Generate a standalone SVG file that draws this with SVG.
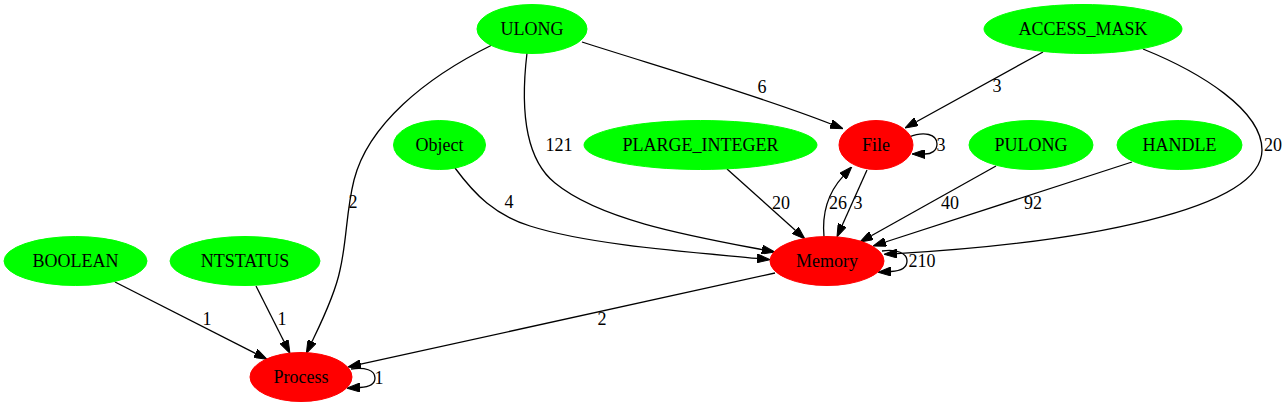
<svg xmlns="http://www.w3.org/2000/svg" width="1288" height="407" viewBox="0 0 1288 407">
<style>
.src ellipse{fill:#00ff00;stroke:#00ff00;stroke-width:1}
.dst ellipse{fill:#ff0000;stroke:#ff0000;stroke-width:1}
text{font-family:"Liberation Serif","Times New Roman",serif;font-size:18px;fill:#000;text-anchor:middle}
.edges path{fill:none;stroke:#000;stroke-width:1.3;marker-end:url(#ah)}
</style>
<defs>
<marker id="ah" viewBox="0 0 13 9" refX="0" refY="4.5" markerUnits="userSpaceOnUse" markerWidth="13" markerHeight="9" orient="auto">
<path d="M0,0 L13,4.5 L0,9 z" fill="#000" stroke="#000" stroke-width="1"/>
</marker>
</defs>
<rect width="1288" height="407" fill="#fff"/>
<g class="edges" id="edges">
<path d="M582,42 C660,67 760,96 831,124"/>
<path d="M527,53 C522,95 520,155 555,183 C600,220 690,236 762,249.6"/>
<path d="M492,45 C425,78 368,125 354,180 C346,212 347,240 340,270 C335,295 320,325 312,341.6"/>
<path d="M1043,52 L916.4,121.7"/>
<path d="M1143,49 C1200,72 1262,110 1262,150 C1262,210 1080,243 897,253.6"/>
<path d="M455,168 C475,195 495,215 530,226 C590,245 690,252 757,258.4"/>
<path d="M727,169 L795.3,230.3"/>
<path d="M909,137 C924,131 937,134 937,144 C937,151 931,154 925,154"/>
<path d="M867,170 L842.3,225.1"/>
<path d="M824,237 C822,215 826,195 843,176.4"/>
<path d="M996,166 L871.3,235.7"/>
<path d="M1132,162 L885.4,242"/>
<path d="M882,251 C897,249 907,253 907,261 C907,268 900,271 891,271.5"/>
<path d="M115,282 L255.4,353.4"/>
<path d="M256,286 L284.1,341.7"/>
<path d="M775,273 L360.7,364.2"/>
<path d="M351,369 C365,367 375,370 375,378 C375,384 370,387 360,387.5"/>
<text x="762" y="93">6</text>
<text x="559" y="151">121</text>
<text x="353" y="208">2</text>
<text x="997" y="92">3</text>
<text x="1273" y="151">20</text>
<text x="509" y="208">4</text>
<text x="781" y="209">20</text>
<text x="941" y="151">3</text>
<text x="858" y="209">3</text>
<text x="838" y="209">26</text>
<text x="950" y="209">40</text>
<text x="1033" y="209">92</text>
<text x="922" y="267">210</text>
<text x="207" y="325">1</text>
<text x="282" y="325">1</text>
<text x="602" y="325">2</text>
<text x="379" y="384">1</text>
</g>
<g id="ULONG" class="src"><ellipse cx="532" cy="29" rx="55" ry="24.5"/><text x="532" y="35">ULONG</text></g>
<g id="ACCESS_MASK" class="src"><ellipse cx="1083" cy="29" rx="99" ry="24.5"/><text x="1083" y="35">ACCESS_MASK</text></g>
<g id="Object" class="src"><ellipse cx="439.5" cy="145" rx="46" ry="24.5"/><text x="439.5" y="151">Object</text></g>
<g id="PLARGE_INTEGER" class="src"><ellipse cx="700.5" cy="145" rx="116.5" ry="24.5"/><text x="700.5" y="151">PLARGE_INTEGER</text></g>
<g id="File" class="dst"><ellipse cx="876" cy="145" rx="37" ry="24.5"/><text x="876" y="151">File</text></g>
<g id="PULONG" class="src"><ellipse cx="1031" cy="145" rx="62" ry="24.5"/><text x="1031" y="151">PULONG</text></g>
<g id="HANDLE" class="src"><ellipse cx="1179.5" cy="145" rx="62.5" ry="24.5"/><text x="1179.5" y="151">HANDLE</text></g>
<g id="BOOLEAN" class="src"><ellipse cx="75.5" cy="261" rx="71.5" ry="24.5"/><text x="75.5" y="267">BOOLEAN</text></g>
<g id="NTSTATUS" class="src"><ellipse cx="245" cy="261" rx="75" ry="24.5"/><text x="245" y="267">NTSTATUS</text></g>
<g id="Memory" class="dst"><ellipse cx="827" cy="261" rx="57" ry="24.5"/><text x="827" y="267">Memory</text></g>
<g id="Process" class="dst"><ellipse cx="301" cy="377" rx="51" ry="24.5"/><text x="301" y="383">Process</text></g>
</svg>
